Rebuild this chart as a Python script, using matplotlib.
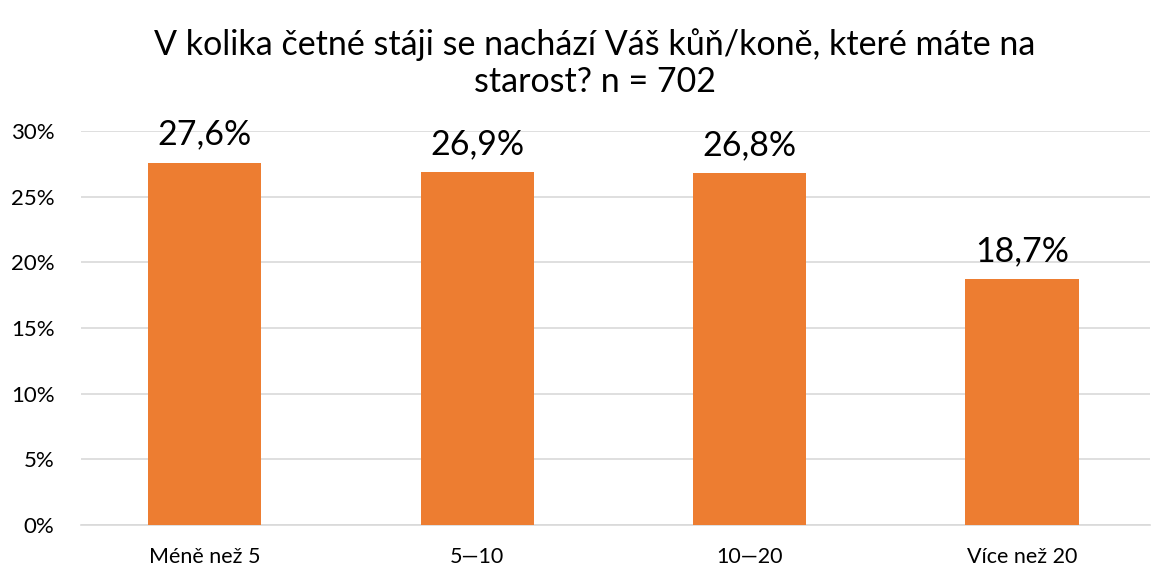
import matplotlib
matplotlib.use("Agg")
import matplotlib.pyplot as plt
from matplotlib.ticker import FuncFormatter

categories = ["Méně než 5", "5—10", "10—20", "Více než 20"]
values = [27.6, 26.9, 26.8, 18.7]
labels = ["27,6%", "26,9%", "26,8%", "18,7%"]
yticks = [0, 5, 10, 15, 20, 25, 30]

plt.rcParams['font.family'] = ['Lato', 'DejaVu Sans']

fig = plt.figure(figsize=(11.6, 5.72), dpi=100)
ax = fig.add_axes([81/1160, 47/572, 1069/1160, 394/572])

x = list(range(len(categories)))
ax.bar(x, values, width=0.415, color="#ED7D31", zorder=3)
for xi, v, lab in zip(x, values, labels):
    ax.text(xi, v + 0.9, lab, ha="center", va="bottom", fontsize=24.5, color="#000000", clip_on=False)

ax.set_ylim(0, 30)
ax.set_xlim(-0.455, 3.47)
ax.set_yticks(yticks)
ax.yaxis.set_major_formatter(FuncFormatter(lambda v, p: f"{int(v)}%"))
ax.set_xticks(x)
ax.set_xticklabels(categories)
ax.grid(axis="y", color="#D9D9D9", linewidth=1.2, zorder=0)
ax.tick_params(axis="y", length=0, labelsize=16, colors="#000000", pad=19)
ax.tick_params(axis="x", length=0, labelsize=15.5, colors="#000000", pad=16)
for s in ["top", "right", "left"]:
    ax.spines[s].set_visible(False)
ax.spines["bottom"].set_color("#D9D9D9")
ax.spines["bottom"].set_linewidth(1.2)

fig.text(0.513, 1 - 63/572, "V kolika četné stáji se nachází Váš kůň/koně, které máte na\nstarost? n = 702",
         ha="center", va="center", fontsize=24.5, color="#000000", linespacing=1.22)

fig.savefig("out.png", dpi=100)
